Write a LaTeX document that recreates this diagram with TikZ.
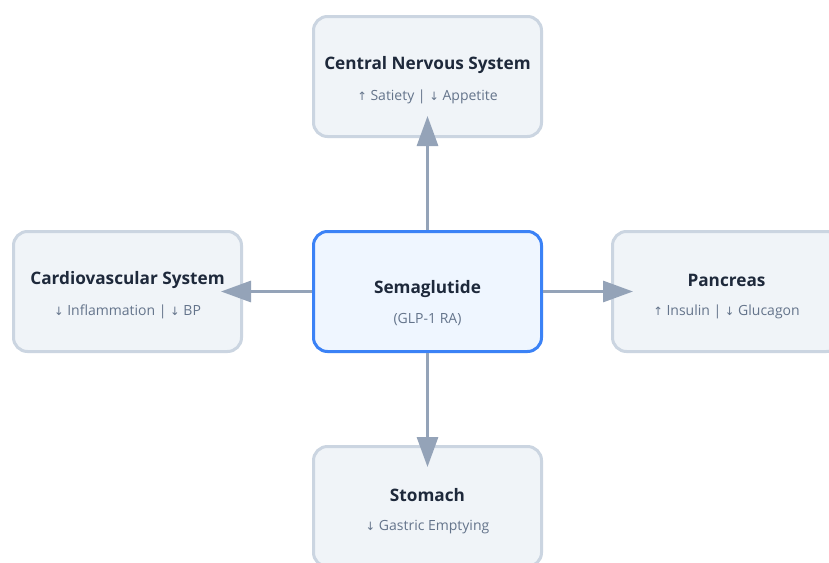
\documentclass[tikz,border=0pt]{standalone}
\usepackage{fontspec}
\setmainfont{Open Sans}
\newfontfamily\arr{DejaVu Sans}
\usetikzlibrary{arrows.meta}
\definecolor{boxfill}{HTML}{F0F4F8}
\definecolor{boxdraw}{HTML}{CBD5E1}
\definecolor{cfill}{HTML}{EFF6FF}
\definecolor{cdraw}{HTML}{3B82F6}
\definecolor{ttl}{HTML}{1E293B}
\definecolor{sub}{HTML}{64748B}
\definecolor{conn}{HTML}{94A3B8}
\tikzset{
  organ/.style={draw=boxdraw, fill=boxfill, line width=3pt, rounded corners=14pt,
    minimum width=228pt, minimum height=120pt, inner sep=0pt},
  core/.style={organ, draw=cdraw, fill=cfill},
  title/.style={font=\bfseries\fontsize{17.2}{20}\selectfont, text=ttl, inner sep=0pt},
  subt/.style={font=\fontsize{14}{16}\selectfont, text=sub, inner sep=0pt},
  link/.style={draw=conn, line width=3pt, -{Triangle[length=30pt,width=21pt]}, shorten >=-22pt}
}
\newcommand{\up}{{\arr\fontsize{11.5}{12}\selectfont ↑}}
\newcommand{\dn}{{\arr\fontsize{11.5}{12}\selectfont ↓}}
\begin{document}
\begin{tikzpicture}[x=1pt,y=-1pt]
\useasboundingbox (0,0) rectangle (829,562);
\clip (0,0) rectangle (829,562);
\fill[white] (0,0) rectangle (829,562);
\node[organ] (cns) at (427.5,76.5) {};
\node[core] (sem) at (427.5,291.5) {};
\node[organ] (cv) at (127.5,291.5) {};
\node[organ] (pan) at (726.5,291.5) {};
\node[organ] (sto) at (427.5,506.5) {};
\node[title] (cnsT) at (427.5,65) {Central Nervous System};
\node[subt] (cnsS) at (427.5,97) {\up\ Satiety | \dn\ Appetite};
\node[title] (semT) at (427.5,289) {Semaglutide};
\node[subt] (semS) at (427.5,320) {(GLP-1 RA)};
\node[title] (cvT) at (127.5,280) {Cardiovascular System};
\node[subt] (cvS) at (127.5,312) {\dn\ Inflammation | \dn\ BP};
\node[title] (panT) at (726.5,280) {Pancreas};
\node[subt] (panS) at (726.5,312) {\up\ Insulin | \dn\ Glucagon};
\node[title] (stoT) at (427.5,495) {Stomach};
\node[subt] (stoS) at (427.5,527) {\dn\ Gastric Emptying};
\draw[link] (sem.north) -- (cns.south);
\draw[link] (sem.west) -- (cv.east);
\draw[link] (sem.east) -- (pan.west);
\draw[link] (sem.south) -- (sto.north);
\end{tikzpicture}
\end{document}
